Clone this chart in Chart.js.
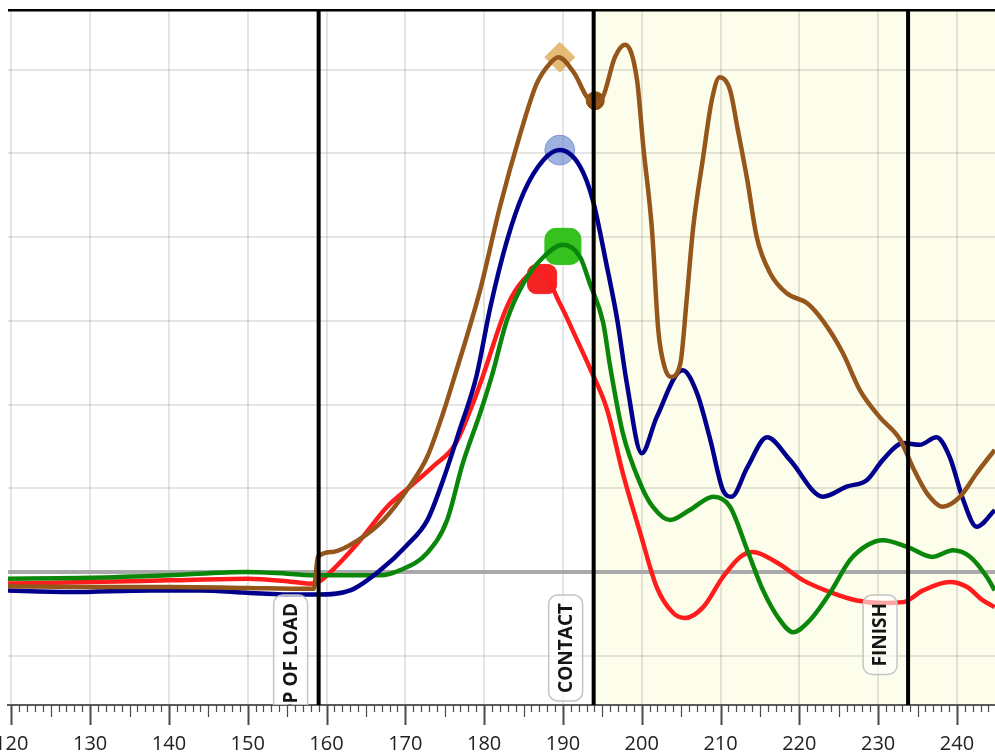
<!DOCTYPE html>
<html>
<head>
<meta charset="utf-8">
<script src="https://cdn.jsdelivr.net/npm/chart.js@4.4.0/dist/chart.umd.min.js"></script>
<style>
  html, body { margin: 0; padding: 0; background: #fff; }
  #wrap { width: 995px; height: 756px; position: relative; }
</style>
</head>
<body>
<div id="wrap"><canvas id="swing-chart"></canvas></div>
<script>
// Swing trace - four sensor curves over frames

// x = frame, y = grid units (one gridline per unit)
const brownX = [118.6, 130, 140, 150, 156.6, 158.4, 158.9, 160.8, 164.0, 167.2, 170.2, 172.8, 174.8, 176.1, 179.5, 182.0, 184.6, 186.7, 188.4, 189.4, 191.5, 193.0, 194.1, 195.1, 196.6, 197.9, 199.4, 200.2, 201.3, 202.1, 202.9, 203.7, 204.9, 205.7, 206.5, 207.8, 208.9, 209.9, 211.2, 212.2, 213.4, 214.6, 216.3, 218.4, 221.0, 223.0, 225.5, 227.7, 230.2, 232.8, 234.4, 236.2, 238.2, 240.4, 242.5, 244.8];
const brownY = [-0.17, -0.18, -0.18, -0.19, -0.20, -0.20, 0.18, 0.24, 0.38, 0.62, 0.98, 1.38, 1.90, 2.29, 3.37, 4.36, 5.24, 5.84, 6.08, 6.15, 5.95, 5.68, 5.58, 5.68, 6.15, 6.30, 5.88, 5.08, 4.09, 2.89, 2.45, 2.33, 2.49, 3.25, 4.09, 4.96, 5.64, 5.91, 5.76, 5.28, 4.68, 4.00, 3.57, 3.33, 3.21, 3.00, 2.62, 2.17, 1.85, 1.58, 1.25, 0.94, 0.78, 0.90, 1.18, 1.46];

const blueX = [118.6, 127.5, 137.6, 144, 150.3, 156.6, 158.9, 163.0, 166.8, 170.2, 172.8, 174.8, 176.9, 179.0, 180.8, 182.9, 185.0, 187.5, 189.6, 192.2, 193.8, 195.6, 196.9, 198.1, 200.0, 201.9, 205.2, 207.0, 208.7, 210.3, 211.4, 213.4, 215.9, 218.8, 223.0, 226.0, 228.6, 230.6, 233.2, 235.3, 237.4, 239.1, 240.8, 242.5, 244.8];
const blueY = [-0.22, -0.24, -0.22, -0.22, -0.25, -0.27, -0.27, -0.22, 0.02, 0.32, 0.62, 1.10, 1.70, 2.33, 3.17, 3.96, 4.53, 4.92, 5.04, 4.84, 4.44, 3.64, 3.01, 2.26, 1.42, 1.85, 2.41, 2.14, 1.58, 0.98, 0.90, 1.25, 1.61, 1.34, 0.90, 1.02, 1.10, 1.34, 1.54, 1.52, 1.61, 1.37, 0.86, 0.54, 0.74];

const greenX = [118.6, 130, 140, 149.7, 155, 158.9, 163, 166.8, 169.3, 172.8, 175.3, 177.3, 179.5, 181.0, 182.9, 185.0, 187.5, 190.0, 192.2, 193.4, 195.1, 196.0, 197.6, 199.8, 201.4, 203.6, 206.1, 209.1, 211.2, 213.4, 215.4, 217.5, 219.2, 221.4, 223.9, 226.4, 228.6, 230.6, 233.7, 236.9, 239.5, 241.7, 243.8, 244.8];
const greenY = [-0.08, -0.07, -0.04, 0.0, -0.02, -0.04, -0.04, -0.04, 0.02, 0.23, 0.62, 1.30, 1.90, 2.35, 3.01, 3.45, 3.76, 3.91, 3.76, 3.45, 2.98, 2.45, 1.66, 1.06, 0.78, 0.62, 0.74, 0.90, 0.78, 0.26, -0.22, -0.57, -0.72, -0.57, -0.25, 0.14, 0.32, 0.38, 0.30, 0.18, 0.26, 0.18, -0.06, -0.22];

const redX = [118.6, 130, 140, 150, 155, 157.9, 159.0, 160.4, 164.0, 167.7, 170.6, 173.5, 176.3, 178.6, 179.8, 182.9, 185.0, 187.1, 189.6, 191.8, 193.4, 195.6, 197.6, 199.8, 201.9, 204.0, 205.5, 207.8, 210.3, 212.5, 214.1, 217.2, 220.5, 223.9, 227.3, 230.6, 233.2, 235.7, 239.1, 241.3, 243.3, 244.8];
const redY = [-0.14, -0.12, -0.10, -0.08, -0.11, -0.14, -0.12, -0.01, 0.35, 0.78, 1.02, 1.26, 1.52, 2.02, 2.33, 3.17, 3.49, 3.61, 3.21, 2.77, 2.44, 1.94, 1.18, 0.47, -0.18, -0.49, -0.55, -0.42, -0.06, 0.18, 0.24, 0.11, -0.10, -0.24, -0.34, -0.37, -0.36, -0.22, -0.12, -0.18, -0.34, -0.42];

// peak markers (brown top, brown dip, blue, green, red)
const markX = [189.6, 194.1, 189.6, 190.0, 187.35];
const markY = [6.15, 5.63, 5.04, 3.89, 3.50];

// swing events
const eventX = [159.0, 193.9, 233.8];
const eventLabels = ['TOP OF LOAD', 'CONTACT', 'FINISH'];

const xTicks = [120, 130, 140, 150, 160, 170, 180, 190, 200, 210, 220, 230, 240];
const yGrid = [-1, 0, 1, 2, 3, 4, 5, 6];

const toPoints = (xs, ys) => xs.map((x, i) => ({ x: x, y: ys[i] }));

function lineSet(xs, ys, color) {
    return {
        type: 'line',
        data: toPoints(xs, ys),
        borderColor: color,
        borderWidth: 4.5,
        pointRadius: 0,
        cubicInterpolationMode: 'monotone',
        fill: false
    };
}

function markSet(i, style, radius, color) {
    return {
        type: 'scatter',
        data: [{ x: markX[i], y: markY[i] }],
        pointStyle: style,
        pointRadius: radius,
        pointHoverRadius: radius,
        backgroundColor: color,
        borderColor: color,
        borderWidth: 1
    };
}

// Draws shading, event lines + labels, top border and the frame ruler
const swingOverlay = {
    id: 'swingOverlay',
    beforeDraw(chart) {
        const { ctx, chartArea: a, scales: { x } } = chart;
        const sx = x.getPixelForValue(eventX[1]);
        ctx.save();
        ctx.fillStyle = '#fdfdeb';
        ctx.fillRect(sx, a.top, a.right - sx, a.bottom - a.top);
        ctx.restore();
    },
    afterDatasetsDraw(chart) {
        const { ctx, chartArea: a, scales: { x } } = chart;
        ctx.save();
        ctx.beginPath();
        ctx.rect(a.left, a.top, a.right - a.left, a.bottom - a.top);
        ctx.clip();

        ctx.font = '700 19px "Open Sans"';
        eventX.forEach((ev, i) => {
            const px = x.getPixelForValue(ev);
            const w = ctx.measureText(eventLabels[i]).width;
            const cx = px - 28;
            const top = 595;
            const h = w + 16;
            ctx.beginPath();
            ctx.roundRect(cx - 17, top, 34, h, 9);
            ctx.fillStyle = 'rgba(255,255,255,0.6)';
            ctx.fill();
            ctx.strokeStyle = '#c4c4c4';
            ctx.lineWidth = 1.5;
            ctx.stroke();

            ctx.save();
            ctx.translate(cx + 1, top + h / 2);
            ctx.rotate(-Math.PI / 2);
            ctx.fillStyle = '#151515';
            ctx.textAlign = 'center';
            ctx.textBaseline = 'middle';
            ctx.fillText(eventLabels[i], 0, 0);
            ctx.restore();

            ctx.fillStyle = '#000';
            ctx.fillRect(px - 2, a.top, 4, a.bottom - a.top);
        });
        ctx.restore();

        // top border
        ctx.save();
        ctx.fillStyle = '#000';
        ctx.fillRect(a.left, a.top - 1, a.right - a.left, 2.5);
        ctx.restore();
    },
    afterDraw(chart) {
        const { ctx, chartArea: a, scales: { x } } = chart;
        ctx.save();
        ctx.strokeStyle = '#4a4a4a';
        for (let v = Math.ceil(x.min); v <= Math.floor(x.max); v++) {
            const px = Math.round(x.getPixelForValue(v)) + 0.5;
            const len = v % 10 === 0 ? 20 : (v % 5 === 0 ? 12 : 7);
            ctx.lineWidth = v % 10 === 0 ? 2 : 1.2;
            ctx.beginPath();
            ctx.moveTo(px, a.bottom);
            ctx.lineTo(px, a.bottom + len);
            ctx.stroke();
        }
        ctx.fillStyle = '#222';
        ctx.font = '20px "Open Sans"';
        ctx.textAlign = 'center';
        ctx.textBaseline = 'middle';
        xTicks.forEach(v => {
            ctx.fillText(String(v), x.getPixelForValue(v), a.bottom + 39);
        });
        ctx.restore();
    }
};

const ctx = document.getElementById('swing-chart').getContext('2d');

const swingChart = new Chart(ctx, {
    type: 'line',
    data: {
        datasets: [
            lineSet(brownX, brownY, '#95561c'),
            lineSet(blueX, blueY, '#00008c'),
            lineSet(greenX, greenY, '#0a870a'),
            lineSet(redX, redY, '#ff1c1c'),
            markSet(0, 'rectRot', 15, 'rgba(226,180,105,0.9)'),
            markSet(1, 'circle', 9, '#8b4d12'),
            markSet(2, 'circle', 15, 'rgba(95,125,200,0.6)'),
            markSet(3, 'rectRounded', 21, '#35c21f'),
            markSet(4, 'rectRounded', 17, '#f42424')
        ]
    },
    options: {
        responsive: true,
        maintainAspectRatio: false,
        animation: false,
        events: [],
        layout: { autoPadding: false, padding: { top: 10, left: 0, right: 0, bottom: 0 } },
        plugins: {
            legend: { display: false },
            tooltip: { enabled: false }
        },
        scales: {
            x: {
                type: 'linear',
                min: 119.58,
                max: 244.83,
                afterBuildTicks: s => { s.ticks = xTicks.map(v => ({ value: v })); },
                afterFit: s => { s.height = 51; },
                ticks: { display: false },
                grid: { color: 'rgba(0,0,0,0.1)', lineWidth: 2, drawTicks: false },
                border: { display: true, color: '#5a5a5a', width: 2 }
            },
            y: {
                min: -1.589,
                max: 6.714,
                afterBuildTicks: s => { s.ticks = yGrid.map(v => ({ value: v })); },
                afterFit: s => { s.width = 8; },
                ticks: { display: false },
                grid: {
                    color: c => c.tick.value === 0 ? '#a9a9a9' : 'rgba(0,0,0,0.1)',
                    lineWidth: c => c.tick.value === 0 ? 4 : 2,
                    drawTicks: false
                },
                border: { display: false }
            }
        }
    },
    plugins: [swingOverlay]
});
</script>
</body>
</html>
